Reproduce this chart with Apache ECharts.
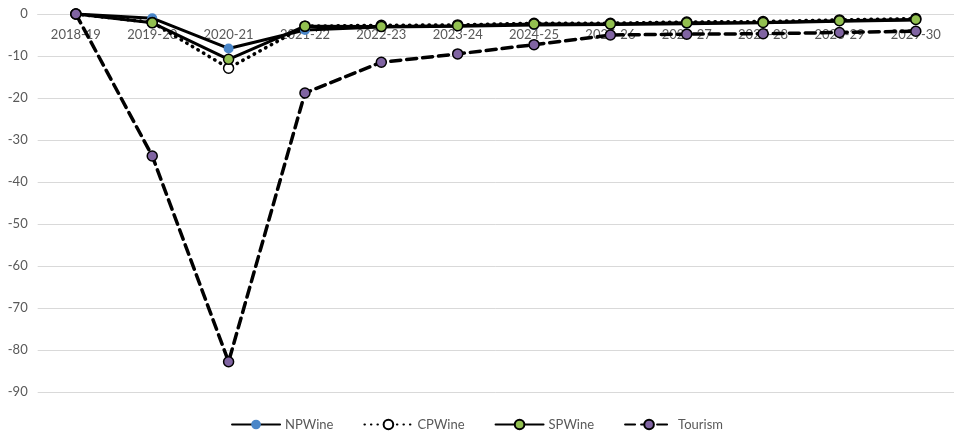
<!DOCTYPE html>
<html><head><meta charset="utf-8">
<script src="https://cdn.jsdelivr.net/npm/echarts@6/dist/echarts.min.js"></script>
<style>html,body{margin:0;padding:0;background:#fff}#c{width:954px;height:437px}</style>
</head><body><div id="c"></div>
<script>
const categories = ['2018-19','2019-20','2020-21','2021-22','2022-23','2023-24','2024-25','2025-26','2026-27','2027-28','2028-29','2029-30'];
const npWine  = [0, -1.0, -8.2, -3.8, -3.1, -2.9, -2.6, -2.5, -2.3, -2.1, -1.7, -1.4];
const cpWine  = [0, -2.0, -12.9, -2.9, -2.7, -2.6, -2.2, -2.2, -1.9, -1.8, -1.4, -1.1];
const spWine  = [0, -2.1, -10.8, -2.9, -3.0, -2.8, -2.4, -2.4, -2.1, -2.0, -1.6, -1.3];
const tourism = [0, -33.8, -82.8, -18.8, -11.5, -9.5, -7.3, -5.0, -4.8, -4.7, -4.4, -4.1];
const yTicks = {min: -90, max: 0, interval: 10};

const chart = echarts.init(document.getElementById('c'), null, {renderer: 'canvas'});
const font = 'Lato, "Open Sans", sans-serif';
function mk(name, data, color, border, lineType, sw) {
  return {
    name, type: 'line', data,
    symbol: 'circle', symbolSize: 10,
    itemStyle: {color: color, borderColor: border, borderWidth: border ? 1.5 : 0},
    lineStyle: {color: '#000', width: sw, type: lineType, cap: 'round'},
    emphasis: {disabled: true},
    animation: false
  };
}
chart.setOption({
  animation: false,
  grid: {left: 37.7, top: 14, width: 919.6, bottom: 45, containLabel: false},
  legend: {
    bottom: 1, left: 'center', itemWidth: 48, itemHeight: 12, itemGap: 30,
    textStyle: {color: '#595959', fontSize: 13, fontFamily: font},
    data: ['NPWine', 'CPWine', 'SPWine', 'Tourism']
  },
  xAxis: {
    type: 'category', data: categories, boundaryGap: true, position: 'top',
    axisLine: {onZero: false, lineStyle: {color: '#d9d9d9', width: 1}},
    axisTick: {show: false},
    axisLabel: {color: '#595959', fontSize: 13, fontFamily: font, margin: 14, interval: 0, inside: true},
    z: 0
  },
  yAxis: {
    type: 'value', min: yTicks.min, max: yTicks.max, interval: yTicks.interval,
    axisLine: {show: false}, axisTick: {show: false},
    splitLine: {lineStyle: {color: '#d9d9d9', width: 1}},
    axisLabel: {color: '#595959', fontSize: 13, fontFamily: font, margin: 10}
  },
  series: [
    mk('NPWine', npWine, '#4a86c8', null, 'solid', 3),
    mk('CPWine', cpWine, '#ffffff', '#000', [0.5, 6], 3.5),
    mk('SPWine', spWine, '#92c050', '#000', 'solid', 3),
    mk('Tourism', tourism, '#8064a2', '#000', [10, 6], 3.5)
  ]
});
</script></body></html>
